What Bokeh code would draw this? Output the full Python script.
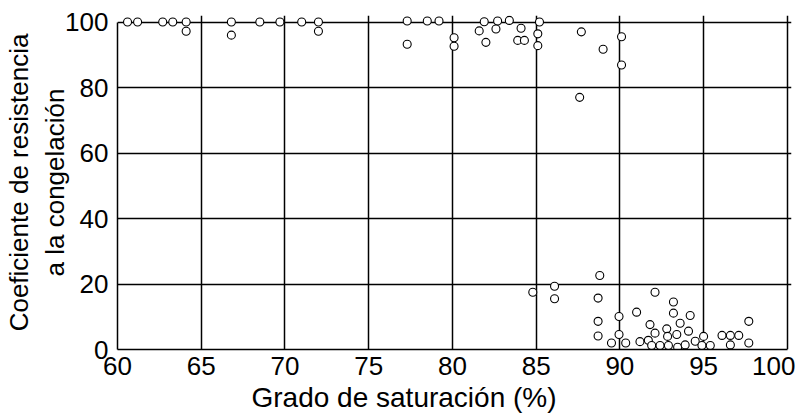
from bokeh.plotting import figure
from bokeh.models import Range1d, FixedTicker, Title
from bokeh.embed import file_html
from bokeh.resources import INLINE

# Grado de saturación (%) and coeficiente de resistencia a la congelación
sat = [60.6, 61.2, 62.7, 63.3, 64.1, 64.1, 66.8, 66.8, 68.5, 69.7, 71.0, 72.0, 72.0,
       77.3, 77.3, 78.5, 79.2, 80.1, 80.1, 81.9, 81.6, 82.0, 82.7, 82.6, 83.4, 84.1,
       83.9, 84.3, 85.2, 85.1, 85.1,
       87.7, 89.0, 90.1, 90.1, 87.6,
       84.8, 86.1, 86.1, 88.8, 88.7, 88.7, 88.7, 89.5, 89.95, 89.95, 90.35, 91.0,
       91.2, 91.7, 91.8, 91.9, 92.1, 92.1, 92.4, 92.8, 92.85, 92.9, 93.2, 93.2,
       93.4, 93.45, 93.6, 93.9, 94.1, 94.2, 94.5, 94.9, 95.0, 95.4, 96.1, 96.6,
       96.6, 97.1, 97.7, 97.7]
coef = [100, 100, 100, 100, 100, 97.2, 100, 96.0, 100, 100, 100, 100, 97.2,
        100.3, 93.2, 100.3, 100.3, 95.2, 92.6, 100.1, 97.3, 93.8, 100.3, 97.9, 100.5, 98.1,
        94.4, 94.4, 100, 96.4, 92.8,
        97.0, 91.7, 95.5, 86.9, 77.0,
        17.5, 19.3, 15.5, 22.6, 15.7, 8.6, 4.1, 2.0, 10.1, 4.6, 2.0, 11.4,
        2.4, 2.8, 7.6, 1.2, 17.5, 5.0, 1.2, 6.3, 4.0, 1.2, 14.5, 11.1,
        4.6, 0.7, 8.0, 1.4, 5.6, 10.4, 2.5, 1.2, 4.0, 1.2, 4.3, 4.3,
        1.4, 4.3, 8.6, 2.0]

x_ticks = [60, 65, 70, 75, 80, 85, 90, 95, 100]
y_ticks = [0, 20, 40, 60, 80, 100]
x_title = "Grado de saturación (%)"
y_title = "Coeficiente de resistencia\na la congelación"

FONT = "Liberation Sans"

p = figure(width=795, height=414, output_backend="svg", toolbar_location=None,
           x_range=Range1d(60, 100.25), y_range=Range1d(0, 102),
           min_border_left=117, min_border_right=4, min_border_top=15,
           min_border_bottom=40)
p.outline_line_color = None
p.background_fill_color = "white"
p.border_fill_color = "white"

for ax in (p.xaxis[0], p.yaxis[0]):
    ax.axis_line_color = "black"
    ax.axis_line_width = 1.5
    ax.major_tick_line_color = None
    ax.minor_tick_line_color = None
    ax.major_tick_out = 0
    ax.major_tick_in = 0
    ax.major_label_text_font = FONT
    ax.major_label_text_font_size = "26px"
    ax.major_label_text_color = "black"

p.xaxis.ticker = FixedTicker(ticks=x_ticks)
p.yaxis.ticker = FixedTicker(ticks=y_ticks)
p.xaxis.bounds = (60, 100)
p.yaxis.bounds = (0, 100)
p.xaxis.major_label_standoff = 7
p.yaxis.major_label_standoff = 9

p.yaxis.axis_label = y_title
p.yaxis.axis_label_text_font = FONT
p.yaxis.axis_label_text_font_size = "26px"
p.yaxis.axis_label_text_font_style = "normal"
p.yaxis.axis_label_text_color = "black"
p.yaxis.axis_label_standoff = -8
p.yaxis.axis_label_text_line_height = 1.2

xt = Title(text=x_title, align="left", offset=134, standoff=4,
           text_font=FONT, text_font_size="28px", text_font_style="normal",
           text_color="black")
p.add_layout(xt, "below")

p.xgrid.ticker = FixedTicker(ticks=x_ticks)
p.ygrid.ticker = FixedTicker(ticks=y_ticks)
for g in (p.xgrid[0], p.ygrid[0]):
    g.grid_line_color = "black"
    g.grid_line_width = 1.5
p.xgrid.bounds = (0, 100)
p.ygrid.bounds = (60, 100)

p.scatter(sat, coef, marker="circle", size=8, fill_color="white",
          line_color="black", line_width=1.1)

open("out.html", "w").write(file_html(p, INLINE))
